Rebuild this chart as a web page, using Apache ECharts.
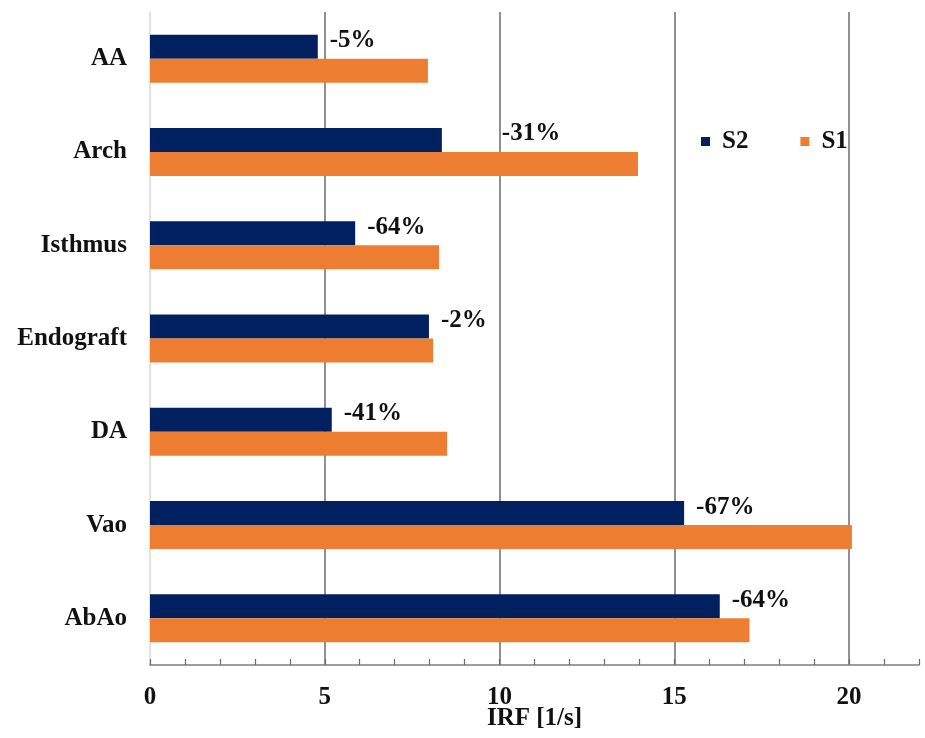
<!DOCTYPE html>
<html>
<head>
<meta charset="utf-8">
<script src="https://cdn.jsdelivr.net/npm/echarts@6/dist/echarts.min.js"></script>
<style>html,body{margin:0;padding:0;background:#fff}#c{width:925px;height:738px}</style>
</head>
<body>
<div id="c"></div>
<script>
const categories = ['AA', 'Arch', 'Isthmus', 'Endograft', 'DA', 'Vao', 'AbAo'];
const s2Values = [4.8, 8.35, 5.87, 7.98, 5.2, 15.28, 16.3];
const s1Values = [7.95, 13.96, 8.27, 8.1, 8.5, 20.08, 17.15];
const changeLabels = ['-5%', '-31%', '-64%', '-2%', '-41%', '-67%', '-64%'];
const xTicks = [0, 5, 10, 15, 20];

const FONT = '"Liberation Serif", "Times New Roman", serif';
const FS = 25;
const chart = echarts.init(document.getElementById('c'));
const s2Data = s2Values.map((v, i) => {
  const d = { value: v, label: { formatter: changeLabels[i] } };
  if (categories[i] === 'Arch') d.label.offset = [48, -6];
  return d;
});
chart.setOption({
  animation: false,
  textStyle: { fontFamily: FONT },
  grid: { left: 150, right: 6, top: 12, bottom: 73, containLabel: false, outerBoundsMode: 'none' },
  legend: {
    left: 696, top: 124, icon: 'rect', itemWidth: 9, itemHeight: 9, itemGap: 52,
    data: ['S2', 'S1'],
    textStyle: { fontFamily: FONT, fontWeight: 'bold', fontSize: FS, color: '#111', padding: [0, 0, 0, 7] }
  },
  xAxis: [{
    type: 'value', min: 0, max: 22, interval: 5, position: 'bottom',
    name: 'IRF [1/s]', nameLocation: 'middle', nameGap: 41, nameMoveOverlap: false,
    nameTextStyle: { fontFamily: FONT, fontWeight: 'bold', fontSize: FS, color: '#111' },
    axisLine: { show: true, lineStyle: { color: '#7f7f7f', width: 1.5 } },
    axisTick: { show: false },
    axisLabel: { margin: 20, fontFamily: FONT, fontWeight: 'bold', fontSize: FS, color: '#111',
      formatter: v => xTicks.includes(v) ? String(v) : '' },
    splitLine: { show: true, showMinLine: false, showMaxLine: false, lineStyle: { color: '#6b6b6b', width: 1.5 } }
  }, {
    type: 'value', min: 0, max: 22, interval: 1, position: 'bottom', offset: 0,
    axisLine: { show: false },
    axisTick: { show: true, inside: true, length: 6, lineStyle: { color: '#6b6b6b', width: 1.2 } },
    axisLabel: { show: false },
    splitLine: { show: false }
  }],
  yAxis: {
    type: 'category', data: categories, inverse: true,
    axisLine: { show: true, lineStyle: { color: '#d9d9d9', width: 1.5 } },
    axisTick: { show: false },
    axisLabel: { margin: 23, fontFamily: FONT, fontWeight: 'bold', fontSize: FS, color: '#111' }
  },
  series: [{
    name: 'S2', type: 'bar', xAxisIndex: 0, data: s2Data, barWidth: 24, barGap: '0%',
    itemStyle: { color: '#002060' },
    label: { show: true, position: 'right', distance: 12, offset: [0, -6],
      fontFamily: FONT, fontWeight: 'bold', fontSize: FS, color: '#111' }
  }, {
    name: 'S1', type: 'bar', xAxisIndex: 0, data: s1Values, barWidth: 24, barGap: '0%',
    itemStyle: { color: '#ED7D31' }
  }]
});
</script>
</body>
</html>
